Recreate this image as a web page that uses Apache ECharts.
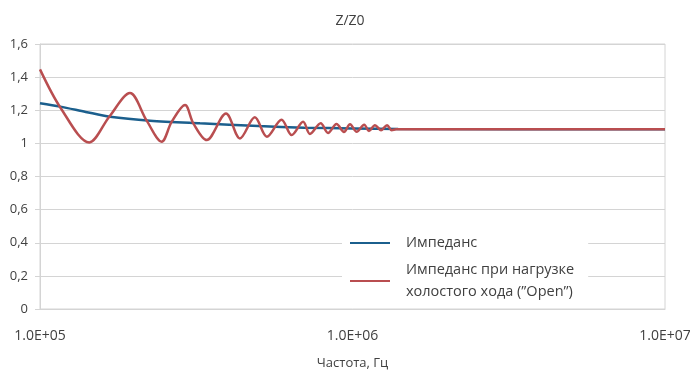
<!DOCTYPE html>
<html>
<head>
<meta charset="utf-8">
<script src="https://cdn.jsdelivr.net/npm/echarts@6/dist/echarts.min.js"></script>
<style>
  html, body { margin: 0; padding: 0; background: #fff; }
  #chart { width: 690px; height: 373px; }
</style>
</head>
<body>
<div id="chart"></div>
<script>
// Normalised impedance Z/Z0 versus frequency (Hz)
const seriesNames = ['Импеданс', 'Импеданс при нагрузке\nхолостого хода (”Open”)'];

// Matched line
const matchedFreq = [1.0e5, 1.16e5, 1.4e5, 1.675e5, 2.25e5, 3.25e5, 5.0e5, 7.0e5, 1.0e6, 1.4e6, 1.0e7];
const matchedZ    = [1.242, 1.222, 1.19, 1.161, 1.137, 1.121, 1.105, 1.095, 1.09, 1.087, 1.085];

// Open-circuited line: standing-wave ripple that settles above ~1.3 MHz
const openFreq = [1.0e5, 1.167e5, 1.438e5, 1.666e5, 1.94e5, 2.195e5, 2.451e5, 2.64e5, 2.911e5, 3.095e5,
                  3.415e5, 3.937e5, 4.365e5, 4.87e5, 5.32e5,
                  5.93e5, 6.39e5, 6.95e5, 7.31e5, 7.91e5, 8.35e5, 8.89e5, 9.39e5, 9.82e5, 1.031e6,
                  1.09e6, 1.129e6, 1.18e6, 1.234e6, 1.29e6, 1.335e6, 1.38e6, 1.0e7];
const openZ    = [1.447, 1.211, 1.006, 1.161, 1.304, 1.137, 1.010, 1.131, 1.232, 1.121,
                  1.020, 1.180, 1.030, 1.157, 1.040,
                  1.143, 1.050, 1.130, 1.057, 1.121, 1.063, 1.117, 1.069, 1.115, 1.070,
                  1.113, 1.075, 1.110, 1.080, 1.110, 1.080, 1.085, 1.085];

const yTicks = { min: 0, max: 1.6, step: 0.2 };
const xRange = { min: 1e5, max: 1e7 };

const FONT = 'Open Sans';
const GRID_GRAY = '#d4d4d4';
const TEXT = '#404040';

const pair = (xs, ys) => xs.map((x, i) => [x, ys[i]]);

const chart = echarts.init(document.getElementById('chart'), null, { renderer: 'canvas' });
chart.setOption({
  animation: false,
  backgroundColor: '#ffffff',
  textStyle: { fontFamily: FONT, color: TEXT },
  title: {
    text: 'Z/Z0',
    left: 345, top: 9, textAlign: 'center',
    textStyle: { fontFamily: FONT, fontSize: 14, fontWeight: 'normal', color: TEXT }
  },
  grid: {
    left: 40, right: 25, top: 44, bottom: 64,
    outerBoundsMode: 'none',
    containLabel: false,
    show: true, borderColor: GRID_GRAY, borderWidth: 1, backgroundColor: 'transparent'
  },
  legend: {
    orient: 'vertical',
    left: 342, top: 232,
    padding: [0, 14, 2, 8],
    itemGap: 5,
    itemWidth: 40, itemHeight: 2,
    icon: 'rect',
    backgroundColor: '#ffffff',
    textStyle: { fontFamily: FONT, fontSize: 14.5, color: TEXT, lineHeight: 22, padding: [0, 0, 0, 11] },
    data: seriesNames
  },
  xAxis: {
    type: 'log', logBase: 10, min: xRange.min, max: xRange.max,
    name: 'Частота, Гц', nameLocation: 'middle', nameGap: 48,
    nameTextStyle: { fontFamily: FONT, fontSize: 13, color: TEXT },
    axisLine: { show: true, lineStyle: { color: GRID_GRAY } },
    axisTick: { show: false },
    minorTick: { show: false },
    splitLine: { show: false },
    axisLabel: {
      margin: 20, fontFamily: FONT, fontSize: 14, color: TEXT,
      formatter: v => {
        const e = Math.round(Math.log10(v));
        return '1.0E+' + String(e).padStart(2, '0');
      }
    }
  },
  yAxis: {
    type: 'value', min: yTicks.min, max: yTicks.max, interval: yTicks.step,
    axisLine: { show: true, lineStyle: { color: GRID_GRAY } },
    axisTick: { show: true, inside: false, length: 5, lineStyle: { color: GRID_GRAY } },
    splitLine: { show: true, lineStyle: { color: GRID_GRAY, width: 1 } },
    axisLabel: {
      margin: 12, fontFamily: FONT, fontSize: 13, color: TEXT,
      formatter: v => String(Number(v.toFixed(1))).replace('.', ',')
    }
  },
  series: [
    {
      name: seriesNames[0], type: 'line', smooth: 0.3, showSymbol: false, z: 3,
      lineStyle: { color: '#1b5f8d', width: 2.5 }, itemStyle: { color: '#1b5f8d' },
      data: pair(matchedFreq, matchedZ)
    },
    {
      name: seriesNames[1], type: 'line', smooth: 0.33, showSymbol: false, z: 4,
      lineStyle: { color: '#b94e50', width: 2.5 }, itemStyle: { color: '#b94e50' },
      data: pair(openFreq, openZ)
    }
  ]
});
</script>
</body>
</html>
